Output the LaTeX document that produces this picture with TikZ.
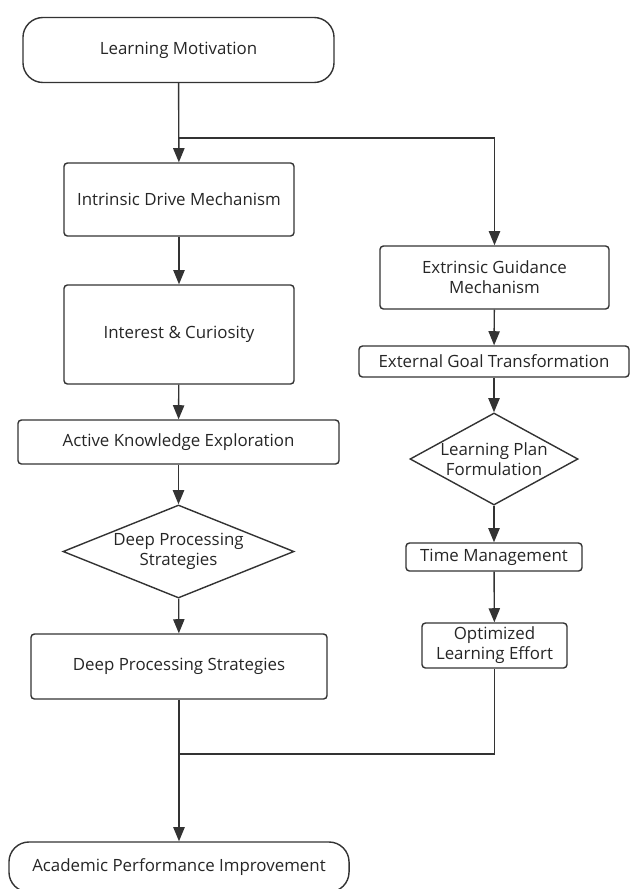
\documentclass[tikz,border=0pt]{standalone}
\usepackage{fontspec}
\setmainfont{Open Sans}
\usetikzlibrary{
  shapes.geometric,
  arrows.meta,
}

\begin{document}
\begin{tikzpicture}[
  x=0.025cm, y=-0.025cm,
  base/.style={draw=black!80, text=black!85, line width=1pt, align=center,
    inner sep=0pt, font=\fontsize{12}{14.2}\selectfont},
  box/.style={base, rectangle, rounded corners=2.5pt},
  terminal/.style={base, rectangle, rounded corners=0.5cm},
  choice/.style={base, diamond},
  link/.style={draw=black!80, line width=1pt, -{Triangle[length=10pt,width=8pt]}},
  plain/.style={draw=black!80, line width=1pt},
]
\useasboundingbox (0,0) rectangle (630,889);
\node[terminal, minimum width=7.775cm, minimum height=1.625cm] (motiv) at (178.5,50) {Learning Motivation};
\node[box, minimum width=5.75cm, minimum height=1.825cm] (intr) at (179,199.5) {Intrinsic Drive Mechanism};
\node[box, minimum width=5.75cm, minimum height=2.475cm] (inter) at (179,334.5) {Interest \& Curiosity};
\node[box, minimum width=8.025cm, minimum height=1.1cm] (active) at (178.5,442) {Active Knowledge Exploration};
\node[choice, aspect=2.5, minimum width=5.775cm, minimum height=2.325cm] (deepq) at (178.5,551.5) {Deep Processing\\Strategies};
\node[box, minimum width=7.4cm, minimum height=1.625cm] (deep) at (179,666.5) {Deep Processing Strategies};
\node[terminal, minimum width=8.5cm, minimum height=1.25cm] (perf) at (179,867) {Academic Performance Improvement};
\node[box, minimum width=5.725cm, minimum height=1.575cm] (extr) at (494.5,277.5) {Extrinsic Guidance\\Mechanism};
\node[box, minimum width=6.75cm, minimum height=0.775cm] (goal) at (494,361.5) {External Goal Transformation};
\node[choice, aspect=1.83, minimum width=4.2cm, minimum height=2.3cm] (plan) at (494,459) {Learning Plan\\Formulation};
\node[box, minimum width=4.4cm, minimum height=0.7cm] (time) at (494,557) {Time Management};
\node[box, minimum width=3.625cm, minimum height=1.125cm] (effort) at (494.5,645.5) {Optimized\\Learning Effort};
\coordinate (split) at (178.5,138);
\coordinate (join) at (179,754);

\draw[link] (motiv) -- (intr);
\draw[link] (split) -| (extr);
\draw[link] (intr) -- (inter);
\draw[link] (inter) -- (active);
\draw[link] (active) -- (deepq);
\draw[link] (deepq) -- (deep);
\draw[link] (deep) -- (perf);
\draw[link] (extr) -- (goal);
\draw[link] (goal) -- (plan);
\draw[link] (plan) -- (time);
\draw[link] (time) -- (effort);
\draw[plain] (effort) |- (join);
\end{tikzpicture}
\end{document}
